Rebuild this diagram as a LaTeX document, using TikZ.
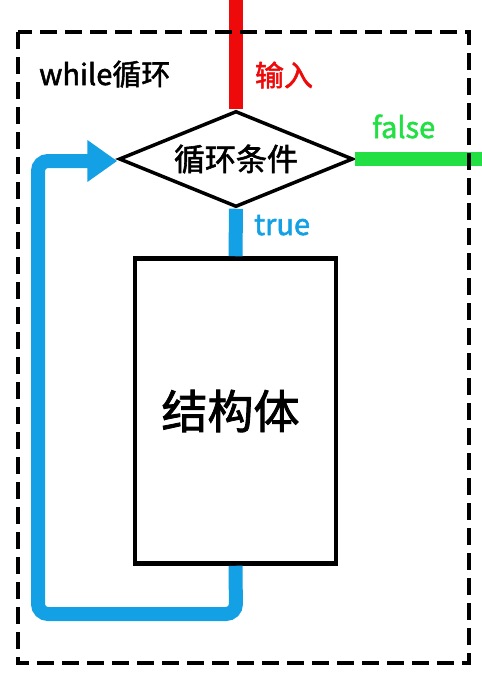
\documentclass[tikz,border=0pt]{standalone}
\usepackage{fontspec}
\setmainfont{Noto Sans CJK SC}[FakeBold=1.8]
\usetikzlibrary{shapes.geometric,arrows.meta}
\definecolor{cblue}{RGB}{20,160,228}
\definecolor{cred}{RGB}{238,10,10}
\definecolor{cgreen}{RGB}{34,224,68}
\tikzset{
  flow/.style={line width=14pt},
  lbl/.style={inner sep=0pt, font=\fontsize{29}{32}\selectfont},
}
\begin{document}
\begin{tikzpicture}[x=1pt,y=-1pt]
\useasboundingbox (0,0) rectangle (482,675);
\fill[white] (0,0) rectangle (482,675);
% nodes
\node[diamond, draw, line width=3.5pt, aspect=2.44, minimum width=234pt, minimum height=96pt, inner sep=0pt,
      font=\fontsize{31}{34}\selectfont] (cond) at (236,159) {\raisebox{-3pt}{循环条件}};
\node[draw, line width=4.5pt, minimum width=201pt, minimum height=305pt, inner sep=0pt,
      font=\fontsize{46}{50}\selectfont] (body) at (235.5,411) {\raisebox{-11pt}{\kern-10pt 结构体}};
\coordinate (top) at (236,0);
\coordinate (exit) at (482,159);
\coordinate (bl) at (38,614);
\coordinate (br) at (236,614);
\coordinate (tl) at (38,161);
% connectors
\draw[flow, cred] (top) -- (cond.north);
\draw[flow, cgreen] (cond.east) -- (exit);
\draw[flow, cblue] (cond.south) -- (body.north);
\draw[flow, cblue, rounded corners=10pt, -{Triangle[length=30pt,width=40pt]}]
  (body.south) -- (br) -- (bl) -- (tl) -- (cond.west |- tl);
% labels
\node[lbl, anchor=base west] (wl) at (39,85) {while循环};
\node[lbl, cred] (in) at (284,75) {输入};
\node[lbl, cgreen, anchor=base west] (fl) at (372,138) {false};
\node[lbl, cblue, anchor=base west] (tr) at (254,235) {true};
% dashed frame
\draw[line width=4pt, dash pattern=on 17pt off 8pt] (18,32) rectangle (469,663);
\end{tikzpicture}
\end{document}
